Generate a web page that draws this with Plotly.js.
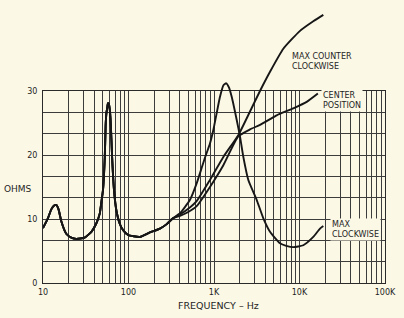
<!DOCTYPE html>
<html>
<head>
<meta charset="utf-8">
<script src="https://cdn.plot.ly/plotly-3.0.1.min.js"></script>
<style>html,body{margin:0;padding:0;background:#fbf8e6;}#chart{width:404px;height:318px;}</style>
</head>
<body>
<div id="chart"></div>
<script>
// ---- data ----
// shared low-frequency part (all three settings coincide), Hz / ohms
const lowFreq = [10, 11.4, 12.5, 13.5, 14.3, 15.2, 16.4, 18.7, 21.4, 24.5, 30.7, 36.8, 42, 46, 48, 50.3, 52.8, 54, 55.1, 56.3, 57.5, 58.8, 60.3, 62, 64.3, 67.7, 72, 78.8, 86, 99, 115, 136, 178, 233, 280, 330];
const lowOhm  = [8.6, 10.1, 11.5, 12.1, 12.2, 11.5, 9.6, 7.7, 7.1, 6.9, 7.1, 8.0, 9.3, 10.8, 12.5, 14.5, 19.7, 24.5, 26.5, 27.3, 28.1, 28.0, 27.2, 25.0, 19.7, 14.5, 11.4, 9.3, 8.3, 7.5, 7.3, 7.2, 7.9, 8.5, 9.2, 10.1];

// MAX CLOCKWISE (upper part)
const cwFreq = [400, 524, 628, 718, 785, 897, 982, 1073, 1175, 1290, 1390, 1490, 1611, 1842, 2013, 2203, 2520, 3155, 3777, 4520, 5917, 7000, 8468, 11080, 14490, 17360, 19000];
const cwOhm  = [10.9, 13.0, 15.6, 18.0, 19.6, 21.8, 23.9, 26.5, 29.1, 30.9, 31.2, 30.6, 29.1, 25.5, 22.9, 19.7, 16.1, 13.0, 10.1, 8.0, 6.2, 5.8, 5.6, 5.9, 7.2, 8.5, 8.9];

// CENTER POSITION (upper part)
const centerFreq = [400, 500, 627, 897, 1286, 1923, 2637, 3451, 4520, 5410, 8468, 12140, 16400];
const centerOhm  = [10.5, 11.1, 12.0, 15.0, 18.4, 22.9, 24.0, 24.7, 25.6, 26.2, 27.3, 28.3, 29.6];

// MAX COUNTER CLOCKWISE (upper part)
const ccwFreq = [400, 500, 627, 897, 1286, 1923, 2637, 3451, 4520, 6470, 10140, 14490, 19000];
const ccwOhm  = [10.7, 11.6, 12.8, 16.1, 19.7, 23.1, 26.8, 30.0, 33.0, 36.6, 39.4, 40.9, 41.9];

// ticks
const decades = [10, 100, 1000, 10000, 100000];
const decadeLabels = ['10', '100', '1K', '10K', '100K'];
const ohmGrid = [0, 10/3, 20/3, 10, 40/3, 50/3, 20, 70/3, 80/3, 30];
const ohmLabels = ['0', '', '', '10', '', '', '20', '', '', '30'];

const seriesLabels = ['MAX<br>CLOCKWISE', 'CENTER<br>POSITION', 'MAX COUNTER<br>CLOCKWISE'];

// ---- build ticks ----
const xTickVals = [], xTickText = [];
decades.forEach((d, i) => {
  if (i < decades.length - 1) {
    for (let m = 1; m <= 9; m++) { xTickVals.push(d * m); xTickText.push(m === 1 ? decadeLabels[i] : ''); }
  } else { xTickVals.push(d); xTickText.push(decadeLabels[i]); }
});

// ---- geometry ----
const W = 404, H = 318;
const M = {l: 43, r: 19, t: 4, b: 35};
const plotH = H - M.t - M.b;           // full data area height
const gridTopPx = 91;                  // pixel of the 30-ohm line
const gridFrac = (H - M.b - gridTopPx) / plotH;
const yMax2 = 30 / gridFrac;
const px = x => (x - M.l) / (W - M.l - M.r);
const py = y => (H - M.b - y) / plotH;

const ink = '#161616';
const gridCol = '#3c3c3c';
const bg = '#fbf8e6';
const font = {family: 'DejaVu Sans', size: 8, color: '#1e1e1e'};

const lineStyle = {color: ink, width: 1.9, shape: 'spline', smoothing: 0.5};
const mk = (f, o) => ({
  x: lowFreq.concat(f), y: lowOhm.concat(o),
  xaxis: 'x2', yaxis: 'y2', mode: 'lines', line: lineStyle, hoverinfo: 'skip'
});

const traces = [
  {x: [], y: [], xaxis: 'x', yaxis: 'y', mode: 'lines', hoverinfo: 'skip'},
  mk(cwFreq, cwOhm),
  mk(centerFreq, centerOhm),
  mk(ccwFreq, ccwOhm)
];

const ann = (text, xPix, yPix, opts) => Object.assign({
  text: text, xref: 'paper', yref: 'paper', x: px(xPix), y: py(yPix),
  xanchor: 'left', yanchor: 'middle', align: 'left', showarrow: false,
  font: font
}, opts || {});

const layout = {
  width: W, height: H,
  margin: {l: M.l, r: M.r, t: M.t, b: M.b, pad: 0},
  paper_bgcolor: bg, plot_bgcolor: 'rgba(0,0,0,0)',
  showlegend: false,
  xaxis: {
    type: 'log', range: [1, 5], domain: [0, 1], anchor: 'y',
    tickmode: 'array', tickvals: xTickVals, ticktext: xTickText,
    showgrid: true, gridcolor: gridCol, gridwidth: 1,
    showline: true, mirror: true, linecolor: '#2a2a2a', linewidth: 1,
    ticks: '', zeroline: false, tickfont: font, ticklabelstandoff: 1, fixedrange: true
  },
  yaxis: {
    range: [0, 30], domain: [0, gridFrac], anchor: 'x',
    tickmode: 'array', tickvals: ohmGrid, ticktext: ohmLabels,
    showgrid: true, gridcolor: gridCol, gridwidth: 1,
    showline: true, mirror: true, linecolor: '#2a2a2a', linewidth: 1,
    ticks: '', zeroline: false, tickfont: font, ticklabelstandoff: 3, fixedrange: true
  },
  xaxis2: {type: 'log', range: [1, 5], domain: [0, 1], anchor: 'y2', visible: false, fixedrange: true},
  yaxis2: {range: [0, yMax2], domain: [0, 1], anchor: 'x2', visible: false, fixedrange: true},
  annotations: [
    ann(seriesLabels[2], 290, 62),
    ann(seriesLabels[1], 321, 100, {bgcolor: bg}),
    ann(seriesLabels[0], 330, 229.5, {bgcolor: bg}),
    {text: 'OHMS', xref: 'paper', yref: 'paper', x: px(2), y: py(189), xanchor: 'left', yanchor: 'middle',
     showarrow: false, font: {family: 'DejaVu Sans', size: 9, color: '#1e1e1e'}},
    {text: 'FREQUENCY – Hz', xref: 'paper', yref: 'paper', x: px(218), y: py(305), xanchor: 'center', yanchor: 'middle',
     showarrow: false, font: {family: 'DejaVu Sans', size: 9.5, color: '#1e1e1e'}}
  ]
};

Plotly.newPlot('chart', traces, layout, {staticPlot: true, displayModeBar: false});
</script>
</body>
</html>
